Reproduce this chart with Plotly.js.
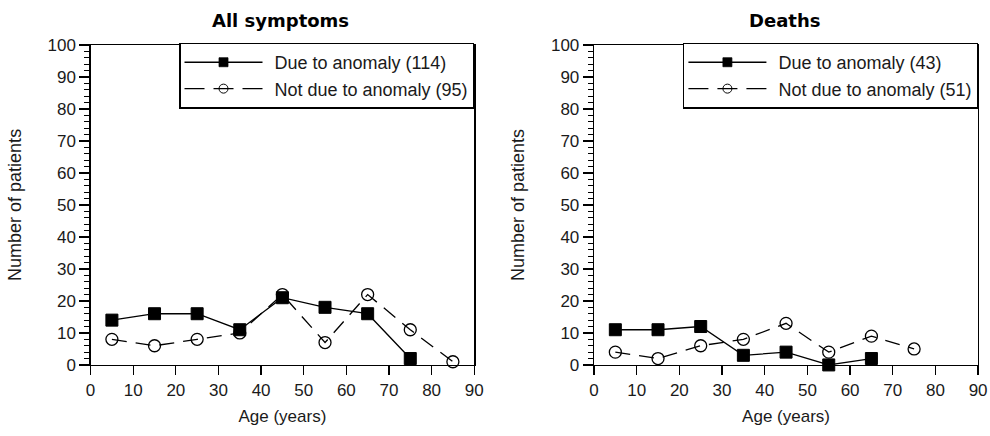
<!DOCTYPE html>
<html>
<head>
<meta charset="utf-8">
<script src="https://cdn.plot.ly/plotly-3.0.1.min.js"></script>
<style>
html,body{margin:0;padding:0;background:#fff;}
#chart{width:990px;height:436px;}
</style>
</head>
<body>
<div id="chart"></div>
<script>
// Age group midpoints (years)
const ageAll = [5, 15, 25, 35, 45, 55, 65, 75, 85];
const ageDeaths = [5, 15, 25, 35, 45, 55, 65, 75];

// All symptoms
const allDue = [14, 16, 16, 11, 21, 18, 16, 2];
const allNotDue = [8, 6, 8, 10, 22, 7, 22, 11, 1];

// Deaths
const deathsDue = [11, 11, 12, 3, 4, 0, 2];
const deathsNotDue = [4, 2, 6, 8, 13, 4, 9, 5];

const panelTitles = ["All symptoms", "Deaths"];
const legendDue = ["Due to anomaly (114)", "Due to anomaly (43)"];
const legendNotDue = ["Not due to anomaly (95)", "Not due to anomaly (51)"];

const font = "Liberation Sans, Arial, sans-serif";
const txt = "#1a1a1a";

function dueTrace(x, y, name, xa, ya, lg) {
  return {x: x.slice(0, y.length), y: y, name: name, xaxis: xa, yaxis: ya, legend: lg,
    type: "scatter", mode: "lines+markers", cliponaxis: false,
    line: {color: "#000", width: 1.3},
    marker: {symbol: "square", size: 12, color: "#000", line: {color: "#000", width: 1}}};
}
function notDueTrace(x, y, name, xa, ya, lg) {
  return {x: x.slice(0, y.length), y: y, name: name, xaxis: xa, yaxis: ya, legend: lg,
    type: "scatter", mode: "lines+markers", cliponaxis: false,
    line: {color: "#000", width: 1.3, dash: "15px,9px"},
    marker: {symbol: "circle-open", size: 12, color: "#000", line: {color: "#000", width: 1.3}}};
}

const data = [
  dueTrace(ageAll, allDue, legendDue[0], "x", "y", "legend"),
  notDueTrace(ageAll, allNotDue, legendNotDue[0], "x", "y", "legend"),
  dueTrace(ageDeaths, deathsDue, legendDue[1], "x2", "y2", "legend2"),
  notDueTrace(ageDeaths, deathsNotDue, legendNotDue[1], "x2", "y2", "legend2")
];

function xAxis(domain, anchor) {
  return {domain: domain, anchor: anchor, range: [0, 90], dtick: 10, tick0: 0,
    showgrid: false, zeroline: false, showline: true, linecolor: "#000", linewidth: 1.3, mirror: true,
    ticks: "outside", ticklen: 9, tickcolor: "#000", tickwidth: 1.3,
    tickfont: {family: font, size: 17, color: txt},
    title: {text: "Age (years)", font: {family: font, size: 17, color: txt}, standoff: 11}};
}
function yAxis(anchor) {
  return {domain: [0.163, 0.897], anchor: anchor, range: [0, 100], dtick: 10, tick0: 0,
    showgrid: false, zeroline: false, showline: true, linecolor: "#000", linewidth: 1.3, mirror: true,
    ticks: "outside", ticklen: 10, tickcolor: "#000", tickwidth: 1.3,
    minor: {dtick: 2, ticks: "outside", ticklen: 5, tickcolor: "#000", tickwidth: 1},
    tickfont: {family: font, size: 17, color: txt},
    title: {text: "Number of patients", font: {family: font, size: 18, color: txt}, standoff: 21}};
}

const legendBase = {xanchor: "right", yanchor: "top", bgcolor: "#fff", bordercolor: "#000", borderwidth: 1.3,
  font: {family: font, size: 18, color: txt}, itemwidth: 84, tracegroupgap: 0, traceorder: "normal"};

const titleFont = {family: "DejaVu Sans, Verdana, sans-serif", size: 18, color: "#000"};

const layout = {
  width: 990, height: 436,
  margin: {l: 0, r: 0, t: 0, b: 0},
  paper_bgcolor: "#fff", plot_bgcolor: "#fff",
  showlegend: true,
  xaxis: xAxis([0.0915, 0.479], "y"),
  yaxis: yAxis("x"),
  xaxis2: xAxis([0.6, 0.988], "y2"),
  yaxis2: yAxis("x2"),
  legend: Object.assign({x: 0.479, y: 0.902}, legendBase),
  legend2: Object.assign({x: 0.988, y: 0.902}, legendBase),
  annotations: [
    {text: "<b>" + panelTitles[0] + "</b>", xref: "paper", yref: "paper", x: 0.2833, y: 0.954,
      xanchor: "center", yanchor: "middle", showarrow: false, font: titleFont},
    {text: "<b>" + panelTitles[1] + "</b>", xref: "paper", yref: "paper", x: 0.7925, y: 0.954,
      xanchor: "center", yanchor: "middle", showarrow: false, font: titleFont}
  ]
};

function styleLegendSymbols(gd) {
  // Longer sample line with the marker centred on it, as in the original legend
  gd.querySelectorAll("g.legendlines path").forEach(p => {
    p.setAttribute("d", "M4,0h78");
    const dash = p.style.strokeDasharray;
    if (dash && dash !== "none" && dash !== "") p.style.strokeDasharray = "20px, 9px";
  });
  gd.querySelectorAll("g.legendpoints path.scatterpts").forEach(p =>
    p.setAttribute("transform", "translate(43,0) scale(0.75)"));
}

Plotly.newPlot("chart", data, layout, {displayModeBar: false, staticPlot: true})
  .then(gd => { styleLegendSymbols(gd); gd.on("plotly_afterplot", () => styleLegendSymbols(gd)); });
</script>
</body>
</html>
